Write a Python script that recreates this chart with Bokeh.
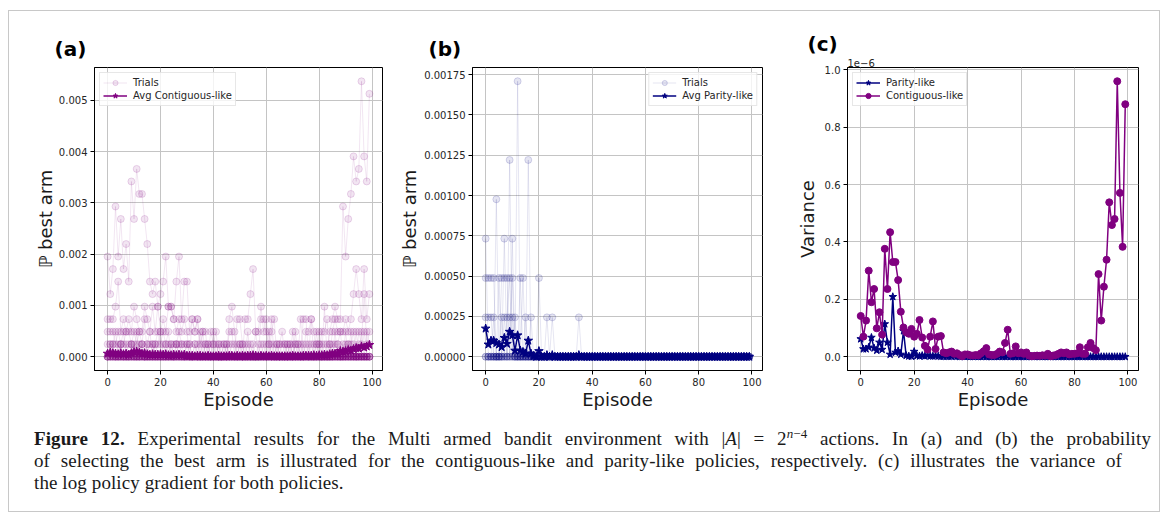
from bokeh.plotting import figure
from bokeh.layouts import row, column
from bokeh.models import (Range1d, Legend, LegendItem, Div, FixedTicker, Title,
                          PrintfTickFormatter)
from bokeh.embed import file_html
from bokeh.resources import INLINE

# ---------------- data ----------------
episodes = list(range(100))
n_arms = 4096  # trial values are counts k -> k / 4096

# Panel (a): individual trials (episode: k), contiguous-like policy
trials_a = [
    {0: 8, 1: 5, 2: 7, 3: 12, 4: 8, 5: 11, 6: 7, 7: 9, 8: 6, 9: 14, 10: 11, 11: 15, 12: 13, 13: 13,
     14: 11, 15: 9, 16: 6, 17: 5, 18: 6, 19: 4, 20: 5, 21: 6, 22: 8, 23: 4, 24: 4, 25: 3, 26: 6,
     27: 8, 28: 3, 29: 6, 30: 6, 31: 2, 32: 3, 33: 2, 34: 3, 35: 1, 36: 2, 38: 1, 40: 2, 42: 1,
     46: 3, 47: 4, 48: 2, 52: 3, 53: 3, 54: 5, 55: 7, 56: 2, 57: 2, 58: 4, 59: 2, 60: 3, 61: 1,
     62: 3, 64: 1, 68: 1, 70: 2, 72: 1, 74: 3, 75: 3, 77: 3, 78: 2, 80: 2, 82: 4, 84: 2, 85: 3,
     86: 4, 87: 3, 88: 3, 89: 12, 90: 8, 91: 11, 92: 13, 93: 16, 94: 14, 95: 15, 96: 22, 97: 16,
     98: 14, 99: 21},
    {0: 3, 1: 3, 2: 3, 3: 4, 4: 6, 5: 2, 6: 3, 7: 2, 8: 3, 9: 2, 10: 4, 11: 3, 12: 2, 13: 2, 14: 4,
     15: 3, 16: 2, 17: 4, 18: 2, 19: 4, 20: 2, 21: 3, 22: 2, 23: 4, 24: 4, 25: 3, 26: 2, 27: 3,
     28: 2, 29: 3, 30: 2, 32: 3, 33: 2, 34: 3, 36: 2, 37: 2, 39: 2, 40: 1, 41: 2, 44: 1, 46: 2,
     47: 2, 49: 3, 50: 3, 51: 1, 53: 2, 56: 2, 58: 3, 59: 3, 60: 2, 62: 2, 63: 3, 65: 1, 66: 2,
     69: 1, 71: 2, 73: 3, 75: 2, 76: 2, 77: 3, 79: 2, 81: 2, 82: 2, 83: 3, 85: 2, 86: 3, 87: 2,
     88: 2, 89: 2, 90: 3, 91: 2, 92: 3, 93: 5, 94: 7, 95: 5, 96: 3, 97: 7, 98: 3, 99: 5},
    {0: 2, 1: 2, 2: 2, 3: 1, 4: 2, 5: 1, 6: 1, 7: 2, 8: 2, 9: 1, 10: 2, 11: 1, 12: 2, 13: 1, 15: 1,
     16: 2, 18: 1, 19: 2, 20: 1, 21: 2, 22: 1, 23: 2, 25: 1, 26: 1, 27: 2, 28: 1, 30: 1, 31: 1,
     33: 1, 35: 2, 37: 1, 38: 1, 41: 1, 43: 1, 45: 1, 47: 1, 48: 1, 50: 1, 52: 1, 55: 1, 57: 1,
     60: 1, 61: 2, 63: 1, 66: 1, 67: 1, 69: 1, 71: 1, 72: 1, 74: 1, 76: 1, 78: 1, 79: 1, 80: 1,
     81: 1, 83: 1, 84: 1, 86: 1, 87: 1, 88: 2, 90: 1, 92: 1, 93: 2, 95: 2, 96: 1, 97: 5, 98: 1,
     99: 2},
    {0: 1, 1: 1, 2: 1, 3: 2, 5: 1, 6: 2, 8: 1, 9: 1, 11: 2, 13: 1, 14: 3, 16: 1, 17: 1, 19: 1,
     20: 2, 22: 1, 24: 1, 26: 1, 28: 1, 29: 1, 31: 1, 34: 1, 36: 1, 39: 1, 42: 1, 44: 1, 49: 1,
     51: 1, 54: 1, 59: 1, 62: 1, 64: 1, 68: 1, 70: 1, 73: 1, 77: 1, 80: 1, 82: 1, 85: 1, 89: 1,
     91: 1, 94: 2, 96: 2, 98: 2, 99: 1},
    {1: 1, 4: 1, 7: 1, 10: 1, 12: 1, 15: 1, 18: 1, 21: 1, 24: 1, 27: 1, 30: 1, 33: 1, 40: 1,
     46: 1, 53: 1, 58: 1, 61: 1, 67: 1, 75: 1, 84: 1, 90: 2, 92: 2, 95: 1, 97: 2},
    {2: 1, 9: 1, 17: 1, 26: 1, 37: 1, 50: 1, 65: 1, 79: 1, 87: 1, 93: 1},
    {5: 1, 13: 1, 23: 1, 45: 1, 71: 1, 86: 2, 91: 1},
    {},
    {},
]

avg_contiguous = [
    0.00006, 0.00008, 0.00007, 0.00006, 0.00005, 0.00007, 0.00005, 0.00006, 0.00004, 0.00007,
    0.00009, 0.00010, 0.00008, 0.00006, 0.00007, 0.00005, 0.00004, 0.00005, 0.00004, 0.00004,
    0.00005, 0.00004, 0.00005, 0.00003, 0.00003, 0.00004, 0.00003, 0.00004, 0.00003, 0.00004,
    0.00002, 0.00002, 0.00002, 0.00001, 0.00002, 0.00002, 0.00001, 0.00001, 0.00002, 0.00001,
    0.00001, 0.00001, 0.00002, 0.00001, 0.00001, 0.00001, 0.00002, 0.00002, 0.00001, 0.00002,
    0.00001, 0.00002, 0.00001, 0.00002, 0.00002, 0.00003, 0.00002, 0.00001, 0.00002, 0.00001,
    0.00002, 0.00001, 0.00002, 0.00001, 0.00001, 0.00001, 0.00001, 0.00001, 0.00001, 0.00001,
    0.00002, 0.00001, 0.00001, 0.00001, 0.00002, 0.00002, 0.00002, 0.00002, 0.00003, 0.00002,
    0.00003, 0.00003, 0.00004, 0.00003, 0.00005, 0.00006, 0.00006, 0.00007, 0.00011, 0.00010,
    0.00011, 0.00013, 0.00012, 0.00015, 0.00017, 0.00016, 0.00020, 0.00018, 0.00020, 0.00023,
]

# Panel (b): individual trials (episode: k), parity-like policy
trials_b = [
    {0: 3, 4: 4, 7: 3, 10: 3, 12: 7, 16: 5},
    {0: 2, 1: 2, 2: 2, 3: 2, 5: 2, 9: 5, 13: 2, 20: 2},
    {0: 1, 1: 1, 2: 1, 6: 2, 7: 2, 8: 2, 10: 2, 14: 2, 23: 1},
    {3: 1, 6: 1, 8: 1, 9: 2, 11: 1, 15: 1, 25: 1},
    {7: 1, 9: 1, 10: 1, 17: 1, 35: 1},
]

avg_parity = [
    0.000175, 0.000076, 0.000100, 0.000100, 0.000085, 0.000076, 0.000060, 0.000117, 0.000080, 0.000155,
    0.000133, 0.000038, 0.000133, 0.000038, 0.000030, 0.000020, 0.000100, 0.000020, 0.000005, 0.0,
    0.000035, 0.0, 0.0, 0.000010, 0.0, 0.000010, 0.0, 0.0, 0.0, 0.0,
    0.0, 0.0, 0.0, 0.0, 0.0, 0.000010, 0.0, 0.0, 0.0, 0.0,
    0.0, 0.0, 0.0, 0.0, 0.0, 0.0, 0.0, 0.0, 0.0, 0.0,
    0.0, 0.0, 0.0, 0.0, 0.0, 0.0, 0.0, 0.0, 0.0, 0.0,
    0.0, 0.0, 0.0, 0.0, 0.0, 0.0, 0.0, 0.0, 0.0, 0.0,
    0.0, 0.0, 0.0, 0.0, 0.0, 0.0, 0.0, 0.0, 0.0, 0.0,
    0.0, 0.0, 0.0, 0.0, 0.0, 0.0, 0.0, 0.0, 0.0, 0.0,
    0.0, 0.0, 0.0, 0.0, 0.0, 0.0, 0.0, 0.0, 0.0, 0.0,
]

# Panel (c): variance of the log policy gradient (units of 1e-6)
var_parity = [
    0.062, 0.027, 0.027, 0.033, 0.067, 0.030, 0.022, 0.050, 0.025, 0.114,
    0.050, 0.008, 0.209, 0.015, 0.020, 0.008, 0.090, 0.004, 0.002, 0.001,
    0.018, 0.003, 0.002, 0.004, 0.002, 0.004, 0.002, 0.002, 0.003, 0.002,
    0.001, 0.001, 0.001, 0.001, 0.001, 0.002, 0.001, 0.0, 0.001, 0.0,
    0.001, 0.0, 0.0, 0.001, 0.0, 0.0, 0.001, 0.0, 0.0, 0.0,
    0.0, 0.0, 0.001, 0.0, 0.0, 0.001, 0.0, 0.0, 0.0, 0.0,
    0.0, 0.0, 0.0, 0.0, 0.0, 0.0, 0.0, 0.0, 0.0, 0.0,
    0.0, 0.0, 0.0, 0.0, 0.0, 0.0, 0.0, 0.0, 0.0, 0.0,
    0.0, 0.0, 0.0, 0.0, 0.0, 0.0, 0.0, 0.0, 0.0, 0.0,
    0.0, 0.0, 0.0, 0.0, 0.0, 0.0, 0.0, 0.0, 0.0, 0.0,
]
var_contiguous = [
    0.142, 0.070, 0.126, 0.300, 0.190, 0.236, 0.099, 0.155, 0.077, 0.376,
    0.236, 0.434, 0.330, 0.330, 0.267, 0.157, 0.102, 0.085, 0.080, 0.097,
    0.070, 0.080, 0.128, 0.067, 0.038, 0.025, 0.070, 0.123, 0.027, 0.070,
    0.072, 0.015, 0.012, 0.015, 0.018, 0.010, 0.012, 0.006, 0.002, 0.008,
    0.008, 0.005, 0.004, 0.006, 0.005, 0.012, 0.019, 0.030, 0.008, 0.006,
    0.006, 0.010, 0.018, 0.015, 0.048, 0.094, 0.010, 0.012, 0.036, 0.012,
    0.015, 0.010, 0.015, 0.004, 0.002, 0.003, 0.004, 0.003, 0.005, 0.004,
    0.010, 0.002, 0.004, 0.006, 0.010, 0.015, 0.012, 0.015, 0.008, 0.010,
    0.010, 0.012, 0.033, 0.010, 0.010, 0.033, 0.048, 0.030, 0.023, 0.288,
    0.126, 0.244, 0.338, 0.538, 0.459, 0.480, 0.960, 0.571, 0.383, 0.880,
]

x_ticks = [0, 20, 40, 60, 80, 100]
y_ticks_a = [0.0, 0.001, 0.002, 0.003, 0.004, 0.005]
y_ticks_b = [0.0, 0.00025, 0.0005, 0.00075, 0.001, 0.00125, 0.0015, 0.00175]
y_ticks_c = [0.0, 0.2, 0.4, 0.6, 0.8, 1.0]

PURPLE = "#800080"
NAVY = "#000080"
FONT = "DejaVu Sans"
FIG_H = 409


def trial_values(d):
    return [d.get(e, 0) / n_arms for e in episodes]


def make_fig(width, bl, br, yr, yticks, yfmt, ylabel, ylab_standoff):
    p = figure(width=width, height=FIG_H, x_range=Range1d(-4.95, 103.95),
               y_range=Range1d(*yr), output_backend="svg", toolbar_location=None,
               min_border_left=bl, min_border_right=br, min_border_top=56,
               min_border_bottom=FIG_H - 56 - 303)
    p.outline_line_color = "black"
    p.outline_line_width = 1
    p.background_fill_color = "white"
    p.border_fill_color = "white"
    xt = FixedTicker(ticks=x_ticks)
    yt = FixedTicker(ticks=yticks)
    p.xaxis.ticker = xt
    p.yaxis.ticker = yt
    p.xgrid.ticker = xt
    p.ygrid.ticker = yt
    p.yaxis.formatter = PrintfTickFormatter(format=yfmt)
    for g in (p.xgrid, p.ygrid):
        g.grid_line_color = "#c4c4c4"
        g.grid_line_width = 1
    for ax in p.xaxis + p.yaxis:
        ax.axis_line_color = "black"
        ax.major_tick_line_color = "black"
        ax.major_tick_out = 4
        ax.major_tick_in = 0
        ax.minor_tick_out = 0
        ax.minor_tick_in = 0
        ax.major_label_standoff = 3
        ax.major_label_text_font = FONT
        ax.major_label_text_font_size = "10px"
        ax.major_label_text_color = "#262626"
        ax.axis_label_text_font = FONT
        ax.axis_label_text_font_size = "18px"
        ax.axis_label_text_font_style = "normal"
        ax.axis_label_text_color = "#1a1a1a"
    p.xaxis.axis_label = "Episode"
    p.xaxis.axis_label_standoff = 0
    p.yaxis.axis_label = ylabel
    p.yaxis.axis_label_standoff = ylab_standoff
    return p


def style_legend(lg, loc):
    lg.location = loc
    lg.margin = 5
    lg.padding = 3
    lg.spacing = 0
    lg.label_text_font = FONT
    lg.label_text_font_size = "10px"
    lg.label_text_color = "#262626"
    lg.label_height = 13
    lg.glyph_height = 13
    lg.glyph_width = 24
    lg.label_standoff = 6
    lg.border_line_color = "#d0d0d0"
    lg.background_fill_alpha = 0.8


def panel_label(p, text, standoff, offset=-40):
    p.add_layout(Title(text=text, align="left", offset=offset, standoff=standoff,
                       text_font=FONT, text_font_size="20px", text_font_style="bold",
                       text_color="black"), "above")


# ---------------- panel (a) ----------------
ya = (-0.000269, 0.00564)
pa = make_fig(387, 85, 14, ya, y_ticks_a, "%.3f", "ℙ best arm", 0)
first = None
for t in trials_a:
    vals = trial_values(t)
    rl = pa.line(episodes, vals, line_color=PURPLE, line_alpha=0.1, line_width=1)
    rs = pa.scatter(episodes, vals, marker="circle", size=7, fill_color=PURPLE, fill_alpha=0.1,
                    line_color=PURPLE, line_alpha=0.15)
    if first is None:
        first = [rl, rs]
al = pa.line(episodes, avg_contiguous, line_color=PURPLE, line_width=1.5)
asc = pa.scatter(episodes, avg_contiguous, marker="star", size=9, color=PURPLE)
lga = Legend(items=[LegendItem(label="Trials", renderers=first),
                    LegendItem(label="Avg Contiguous-like", renderers=[al, asc])])
style_legend(lga, "top_left")
pa.add_layout(lga)
panel_label(pa, "(a)", 13)

# ---------------- panel (b) ----------------
yb = (-0.0000854, 0.001794)
pb = make_fig(384, 75, 18, yb, y_ticks_b, "%.5f", "ℙ best arm", 1)
first = None
for t in trials_b:
    vals = trial_values(t)
    rl = pb.line(episodes, vals, line_color=NAVY, line_alpha=0.1, line_width=1)
    rs = pb.scatter(episodes, vals, marker="circle", size=7, fill_color=NAVY, fill_alpha=0.1,
                    line_color=NAVY, line_alpha=0.15)
    if first is None:
        first = [rl, rs]
bl_ = pb.line(episodes, avg_parity, line_color=NAVY, line_width=1.5)
bsc = pb.scatter(episodes, avg_parity, marker="star", size=9, color=NAVY)
lgb = Legend(items=[LegendItem(label="Trials", renderers=first),
                    LegendItem(label="Avg Parity-like", renderers=[bl_, bsc])])
style_legend(lgb, "top_right")
pb.add_layout(lgb)
panel_label(pb, "(b)", 13, -44)

# ---------------- panel (c) ----------------
yc = (-0.048, 1.008)
pc = make_fig(379, 67, 21, yc, y_ticks_c, "%.1f", "Variance", 4)
cl1 = pc.line(episodes, var_parity, line_color=NAVY, line_width=1.5)
cs1 = pc.scatter(episodes, var_parity, marker="star", size=8, color=NAVY)
cl2 = pc.line(episodes, var_contiguous, line_color=PURPLE, line_width=1.5)
cs2 = pc.scatter(episodes, var_contiguous, marker="circle", size=7, color=PURPLE)
lgc = Legend(items=[LegendItem(label="Parity-like", renderers=[cl1, cs1]),
                    LegendItem(label="Contiguous-like", renderers=[cl2, cs2])])
style_legend(lgc, "top_left")
pc.add_layout(lgc)
pc.add_layout(Title(text="1e\u22126", align="left", offset=0, standoff=2,
                    text_font=FONT, text_font_size="10px", text_font_style="normal",
                    text_color="#262626"), "above")
panel_label(pc, "(c)", 0)

# ---------------- caption ----------------
line_style = "white-space:nowrap;text-align:justify;text-align-last:justify;"
cap_html = (
    '<div style="font-family:\'Liberation Serif\',serif;font-size:19px;line-height:22px;'
    'letter-spacing:0.1px;color:#1a1a1a;padding:8px 0 0 25px;">'
    '<div style="width:1117px;' + line_style + '"><b>Figure 12.</b> Experimental results for the '
    'Multi armed bandit environment with |<i>A</i>| = 2<sup style="font-size:13px;line-height:0">'
    '<i>n</i>\u22124</sup> actions. In (a) and (b) the probability</div>'
    '<div style="width:1088px;' + line_style + '">of selecting the best arm is illustrated for the '
    'contiguous-like and parity-like policies, respectively. (c) illustrates the variance of</div>'
    '<div style="white-space:nowrap">the log policy gradient for both policies.</div>'
    '</div>'
)
cap = Div(text=cap_html, width=1150, height=91, margin=0)

layout = column(row(pa, pb, pc), cap, margin=(10, 0, 0, 8),
                styles={"border": "1px solid #c8c8c8"})

open("out.html", "w").write(file_html(layout, INLINE))
